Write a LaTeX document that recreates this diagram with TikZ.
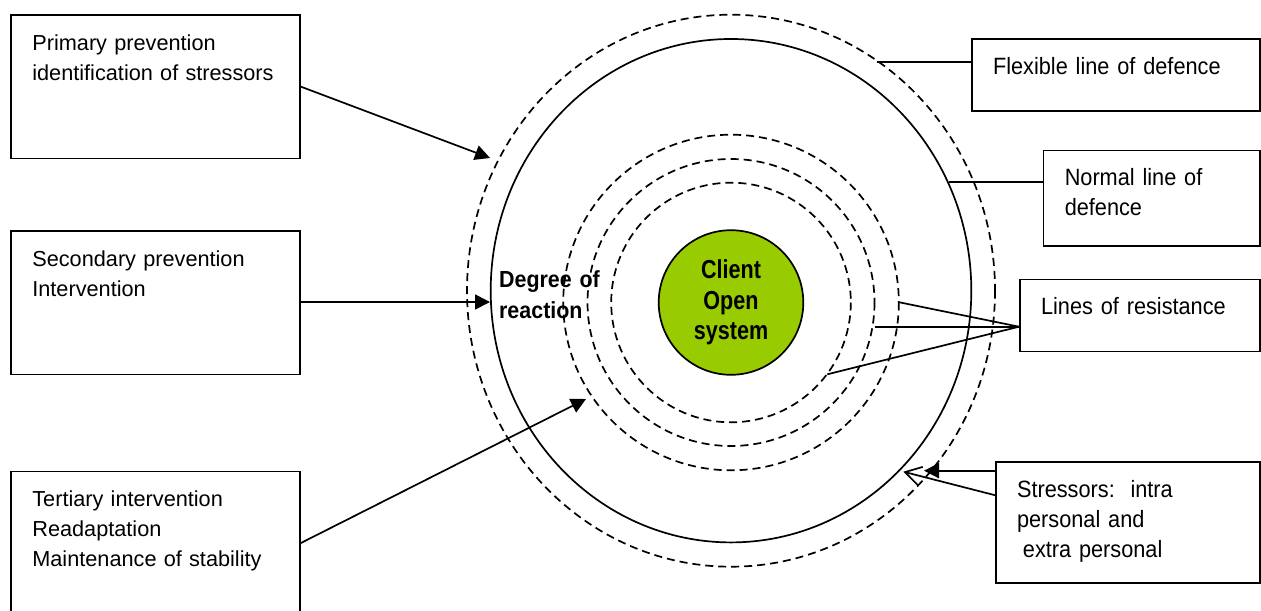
\documentclass[tikz,border=0pt]{standalone}
\usepackage{fontspec}
\setmainfont{Liberation Sans}
\newfontfamily\narrowfont[FakeStretch=0.92]{Liberation Sans}
\newfontfamily\clientfont[FakeStretch=0.83]{Liberation Sans}
\definecolor{ClientGreen}{RGB}{153, 204, 0}
\usetikzlibrary{arrows.meta}

\begin{document}
\begin{tikzpicture}[x=0.5pt, y=-0.5pt, line width=0.85pt,
  box/.style={draw, anchor=north west, align=left, inner xsep=10.6pt, inner ysep=0pt, text height=17.75pt},
  leftbox/.style={box, text width=123.15pt, text depth=54pt, font=\fontsize{10.85}{15}\selectfont},
  rightbox/.style={box, font=\narrowfont\fontsize{11.8}{15}\selectfont},
  ring/.style={dash pattern=on 4pt off 2.5pt},
  arr/.style={-{Triangle[length=7.5pt, width=7.5pt]}},
  openarr/.style={-{Straight Barb[length=8pt, width=9.5pt]}}]
\useasboundingbox (0,0) rectangle (1261,610);
\clip (0,0) rectangle (1261,610);

\draw[ring] (731,290.7) ellipse [x radius=264, y radius=276];
\draw (731,290.7) ellipse [x radius=240.3, y radius=251.7];
\foreach \r in {119.8,143.5,167.8}
  \draw[ring] (731,302.5) circle [radius=\r];

\node[circle, draw, fill=ClientGreen, minimum size=72.3pt, inner sep=0pt, align=center,
  font=\clientfont\bfseries\fontsize{13}{15.3}\selectfont] (client) at (731,302.5) {Client\\Open\\system};
\node[font=\narrowfont\bfseries\fontsize{11.65}{15.35}\selectfont, text width=60pt, align=left,
  inner sep=0pt, anchor=base west] (degree) at (498.3,287.3) {Degree of\\reaction};

\node[leftbox] (primary) at (10.3,14) {Primary prevention\\identification of stressors};
\node[leftbox] (secondary) at (10.3,230) {Secondary prevention\\Intervention};
\node[leftbox] (tertiary) at (10.3,470.5) {Tertiary intervention\\Readaptation\\Maintenance of stability};

\node[rightbox, text width=122.8pt, text depth=18pt] (flexible) at (971,38.5) {Flexible line of defence};
\node[rightbox, text width=86.95pt, text depth=30pt] (normal) at (1042.7,149.5) {Normal line of\\defence};
\node[rightbox, text width=98.8pt, text depth=18.3pt] (resistance) at (1019,278.5) {Lines of resistance};
\node[rightbox, text width=110.8pt, text depth=42.8pt] (stressors) at (995,461) {Stressors:\ \ intra\\personal and\\\hspace*{0.25em}extra personal};

\coordinate (primaryTip) at (490,158);
\coordinate (secondaryTip) at (490,302);
\coordinate (tertiaryTip) at (586,399);
\coordinate (flexibleEnd) at (877,62.3);
\coordinate (normalEnd) at (949,182.3);
\coordinate (outerEnd) at (899.3,302.3);
\coordinate (middleEnd) at (875,326.7);
\coordinate (innerEnd) at (827.3,374.3);
\coordinate (stressTip) at (924,470.7);
\coordinate (stressOpenTip) at (903.3,471.7);

\draw[arr] (primary.east) -- (primaryTip);
\draw[arr] (secondary.east |- secondaryTip) -- (secondaryTip);
\draw[arr] (tertiary.east) -- (tertiaryTip);
\draw (flexible.west |- flexibleEnd) -- (flexibleEnd);
\draw (normal.west |- normalEnd) -- (normalEnd);
\foreach \e in {outerEnd,middleEnd,innerEnd}
  \draw (resistance.west |- middleEnd) -- (\e);
\draw[arr] (stressors.west |- stressTip) -- (stressTip);
\draw[openarr] ([yshift=13.6pt]stressors.west) -- (stressOpenTip);
\end{tikzpicture}
\end{document}
